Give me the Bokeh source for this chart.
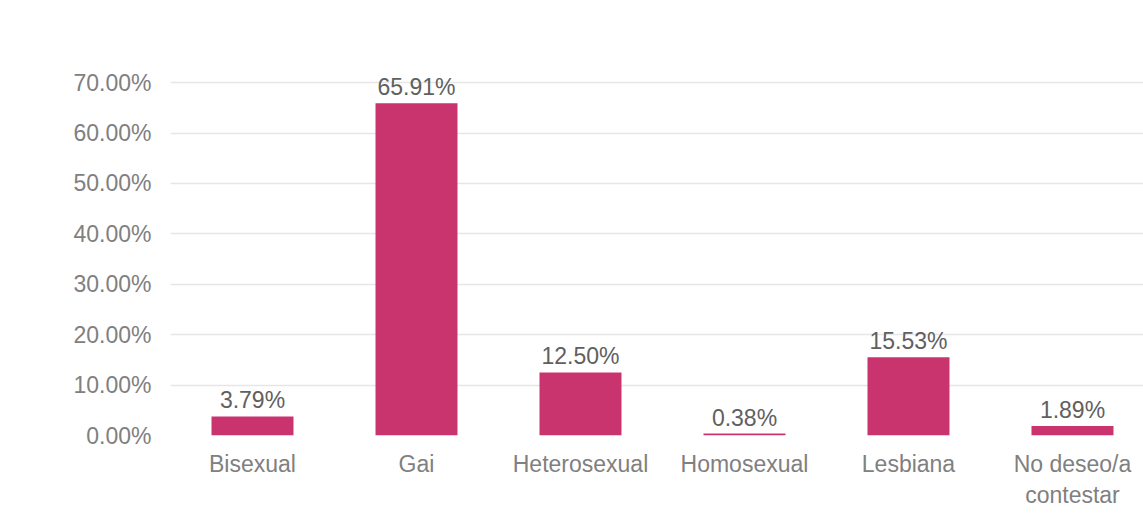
from bokeh.plotting import figure
from bokeh.models import Range1d, FixedTicker, PrintfTickFormatter, ColumnDataSource
from bokeh.core.properties import value
from bokeh.embed import file_html
from bokeh.resources import INLINE

categories = ["Bisexual", "Gai", "Heterosexual", "Homosexual", "Lesbiana", "No deseo/a\ncontestar"]
values = [3.79, 65.91, 12.50, 0.38, 15.53, 1.89]
y_ticks = [0, 10, 20, 30, 40, 50, 60, 70]

positions = [i + 0.5 for i in range(len(categories))]
labels = [f"{v:.2f}%" for v in values]
src = ColumnDataSource(dict(x=positions, top=values, label=labels))

FONT = "Liberation Sans"

p = figure(width=1143, height=526, output_backend="svg", toolbar_location=None,
           x_range=Range1d(0, 5.933), y_range=Range1d(0, 72.4),
           min_border_left=170, min_border_right=0, min_border_top=70, min_border_bottom=91)
p.outline_line_color = None
p.background_fill_color = "white"
p.border_fill_color = "white"

p.vbar(x="x", top="top", width=0.5, bottom=0, source=src, color="#c9346f", line_color=None)
p.text(x="x", y="top", text="label", source=src, text_align="center", text_baseline="bottom",
       y_offset=-3, text_font=value(FONT), text_font_size="23px", text_color="#606060")

p.xaxis.ticker = FixedTicker(ticks=positions)
p.xaxis.major_label_overrides = {pos: c for pos, c in zip(positions, categories)}
p.yaxis.ticker = FixedTicker(ticks=y_ticks)
p.yaxis.formatter = PrintfTickFormatter(format="%.2f%%")

for ax in (p.xaxis[0], p.yaxis[0]):
    ax.axis_line_color = None
    ax.major_tick_line_color = None
    ax.minor_tick_line_color = None
    ax.major_label_text_font = FONT
    ax.major_label_text_font_size = "23px"
    ax.major_label_text_color = "#808080"
p.xaxis.major_label_standoff = 9
p.yaxis.major_label_standoff = 13

p.xgrid.grid_line_color = None
p.ygrid.grid_line_color = "#e6e6e6"
p.ygrid.grid_line_width = 1.5

open("out.html", "w").write(file_html(p, INLINE))
